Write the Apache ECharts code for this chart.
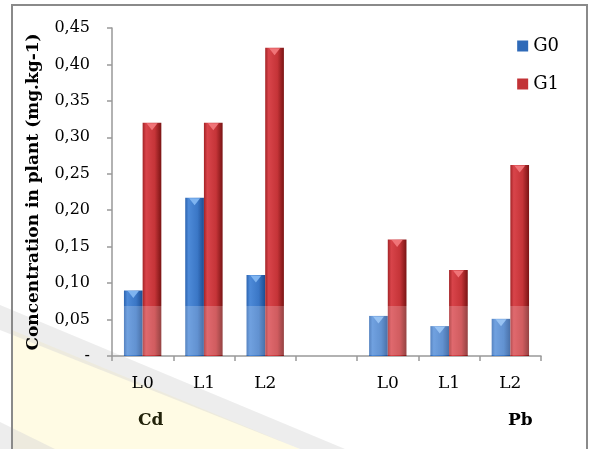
<!DOCTYPE html>
<html>
<head>
<meta charset="utf-8">
<script src="https://cdn.jsdelivr.net/npm/echarts@6/dist/echarts.min.js"></script>
<style>html,body{margin:0;padding:0;background:#fff}#c{width:590px;height:449px}</style>
</head>
<body>
<div id="c"></div>
<script>
const categories = ['L0', 'L1', 'L2', '', 'L0', 'L1', 'L2'];
const seriesNames = ['G0', 'G1'];
const g0Values = [0.090, 0.217, 0.111, null, 0.055, 0.041, 0.051];
const g1Values = [0.320, 0.320, 0.423, null, 0.160, 0.118, 0.262];
const groupLabels = ['Cd', 'Pb'];
const yAxisTitle = 'Concentration in plant (mg.kg-1)';

const serif = '"DejaVu Serif", "Liberation Serif", serif';
const chart = echarts.init(document.getElementById('c'), null, {renderer: 'canvas'});

function grad(stops) {
  return new echarts.graphic.LinearGradient(0, 0, 1, 0, stops.map(c => ({offset: c[0], color: c[1]})));
}
const blueFill = grad([[0, '#2c64b0'], [0.18, '#4d8ad8'], [0.65, '#3b77c6'], [1, '#1d4d92']]);
const redFill = grad([[0, '#a32326'], [0.18, '#d8444a'], [0.65, '#c53438'], [1, '#7a1414']]);

function tips(vals, color) {
  return {
    symbol: 'triangle', symbolRotate: 180, symbolSize: [11, 7], symbolOffset: [0, 4],
    label: {show: false}, itemStyle: {color: color},
    data: vals.map((v, i) => v == null ? null : {coord: [i, v]}).filter(d => d)
  };
}

chart.setOption({
  animation: false,
  grid: {left: 112, right: 49, top: 28, bottom: 93},
  legend: {
    orient: 'vertical', right: 26, top: 32, itemWidth: 11, itemHeight: 11, itemGap: 20,
    icon: 'rect',
    textStyle: {fontFamily: serif, fontSize: 18, color: '#000'},
    data: [
      {name: seriesNames[0], itemStyle: {color: '#2f6ab8'}},
      {name: seriesNames[1], itemStyle: {color: '#c23236'}}
    ]
  },
  xAxis: {
    type: 'category', data: categories,
    axisLine: {lineStyle: {color: '#999', width: 1.5}},
    axisTick: {show: true, interval: 0, length: 5, lineStyle: {color: '#999', width: 1.5}},
    axisLabel: {interval: 0, margin: 19, fontFamily: serif, fontSize: 17, color: '#000'}
  },
  yAxis: {
    type: 'value', min: 0, max: 0.45, interval: 0.05,
    name: yAxisTitle, nameLocation: 'middle', nameGap: 70, nameRotate: 90,
    nameTextStyle: {fontFamily: serif, fontSize: 17, fontWeight: 'bold', color: '#000'},
    axisLine: {show: true, lineStyle: {color: '#999', width: 1.5}},
    axisTick: {show: true, length: 5, lineStyle: {color: '#999', width: 1.5}},
    splitLine: {show: false},
    axisLabel: {
      margin: 22, fontFamily: serif, fontSize: 16, color: '#000',
      formatter: v => v === 0 ? '-' : v.toFixed(2).replace('.', ',')
    }
  },
  series: [
    {name: seriesNames[0], type: 'bar', data: g0Values, barGap: '0%', barCategoryGap: '39%',
     itemStyle: {color: blueFill}, markPoint: tips(g0Values, '#7fb4f0')},
    {name: seriesNames[1], type: 'bar', data: g1Values, barGap: '0%', barCategoryGap: '39%',
     itemStyle: {color: redFill}, markPoint: tips(g1Values, '#f07478')}
  ],
  graphic: [
    {type: 'polygon', z: -10, silent: true, shape: {points: [[12, 330], [12, 449], [300, 449]]},
     style: {fill: 'rgba(255,248,205,0.55)'}},
    {type: 'polygon', z: -9, silent: true, shape: {points: [[0, 305], [0, 330], [300, 449], [345, 449]]},
     style: {fill: 'rgba(215,215,215,0.45)'}},
    {type: 'polygon', z: -9, silent: true, shape: {points: [[0, 422], [0, 449], [55, 449]]},
     style: {fill: 'rgba(215,215,215,0.45)'}},
    {type: 'rect', z: 100, silent: true, shape: {x: 113, y: 306, width: 428, height: 49},
     style: {fill: 'rgba(255,255,255,0.2)'}},
    {type: 'rect', z: 100, silent: true, shape: {x: 12, y: 5, width: 575, height: 460},
     style: {fill: 'none', stroke: '#8a8a8a', lineWidth: 2}},
    {type: 'text', z: 100, left: 138, top: 412,
     style: {text: groupLabels[0], font: 'bold 17px ' + serif, fill: '#22220a'}},
    {type: 'text', z: 100, left: 508, top: 412,
     style: {text: groupLabels[1], font: 'bold 17px ' + serif, fill: '#000'}}
  ]
});
</script>
</body>
</html>
